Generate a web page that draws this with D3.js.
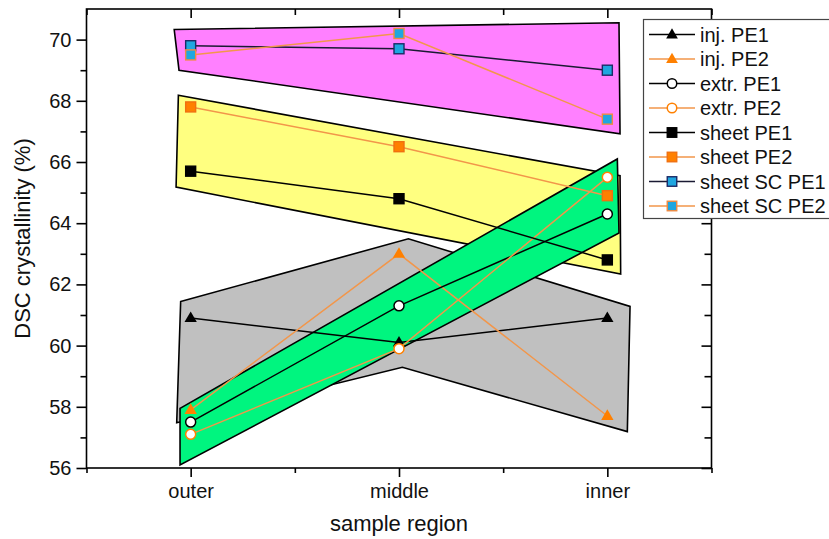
<!DOCTYPE html>
<html><head><meta charset="utf-8">
<script src="https://cdn.jsdelivr.net/npm/d3@7"></script>
<style>html,body{margin:0;padding:0;background:#fff;}svg{display:block;font-family:"Liberation Sans",Arial,sans-serif;}</style>
</head><body><svg id="c" width="829" height="539"></svg>
<script>
// ---- data ----
const categories = ["outer", "middle", "inner"];
const yTicks = [56, 58, 60, 62, 64, 66, 68, 70];
const injPE1 = [60.9, 60.1, 60.9];
const injPE2 = [57.9, 63.0, 57.7];
const extrPE1 = [57.5, 61.3, 64.3];
const extrPE2 = [57.1, 59.9, 65.5];
const sheetPE1 = [65.7, 64.8, 62.8];
const sheetPE2 = [67.8, 66.5, 64.9];
const sheetSCPE1 = [69.8, 69.7, 69.0];
const sheetSCPE2 = [69.5, 70.2, 67.4];
// shaded regions, [category position (outer=1), value]
const grayRegion = [[0.952,61.44],[2.045,63.49],[3.109,61.28],[3.096,57.19],[2.016,59.29],[0.933,57.48]];
const yellowRegion = [[0.941,68.18],[3.061,65.55],[3.064,62.34],[0.930,65.18]];
const magentaRegion = [[0.921,70.33],[3.056,70.55],[3.061,66.92],[0.944,69.0]];
const greenRegion = [[0.949,57.95],[3.048,66.1],[3.056,63.68],[0.949,56.1]];

const ORANGE = "#ff8000", ORANGE_LINE = "#f2964a", BLUE = "#1fa6e0", NAVY = "#1c2a66";
const series = [
  {name:"inj. PE1", v:injPE1, line:"#000", sym:"tri", fill:"#000", stroke:"#000"},
  {name:"inj. PE2", v:injPE2, line:ORANGE_LINE, sym:"tri", fill:ORANGE, stroke:ORANGE},
  {name:"extr. PE1", v:extrPE1, line:"#000", sym:"circ", fill:"#fff", stroke:"#000"},
  {name:"extr. PE2", v:extrPE2, line:ORANGE_LINE, sym:"circ", fill:"#fff", stroke:ORANGE},
  {name:"sheet PE1", v:sheetPE1, line:"#000", sym:"sq", fill:"#000", stroke:"#000"},
  {name:"sheet PE2", v:sheetPE2, line:ORANGE_LINE, sym:"sq", fill:ORANGE, stroke:"#f07010"},
  {name:"sheet SC PE1", v:sheetSCPE1, line:"#1a1a33", sym:"sq", fill:BLUE, stroke:NAVY},
  {name:"sheet SC PE2", v:sheetSCPE2, line:ORANGE_LINE, sym:"sq", fill:BLUE, stroke:"#f08a40"}
];
const regions = [
  {pts:grayRegion, fill:"#c0c0c0"},
  {pts:yellowRegion, fill:"#ffff80"},
  {pts:magentaRegion, fill:"#ff80ff"},
  {pts:greenRegion, fill:"#00f57f"}
];

// ---- layout ----
const L = 86.5, R = 711.5, T = 9, B = 468;
const x = d3.scaleLinear().domain([0.5, 3.5]).range([L, R]);
const y = d3.scaleLinear().domain([56, 71]).range([B, T]);
const svg = d3.select("#c");

// regions
const poly = d3.line().x(d => x(d[0])).y(d => y(d[1]));
svg.append("g").selectAll("path").data(regions).join("path")
  .attr("d", d => poly(d.pts) + "Z")
  .attr("fill", d => d.fill).attr("stroke", "#000").attr("stroke-width", 1.6)
  .attr("stroke-linejoin", "miter");

// symbols
function drawSym(g, s, cx, cy, scale) {
  if (s.sym === "tri") {
    g.append("path").attr("d", d3.symbol(d3.symbolTriangle, 66 * scale * scale)())
      .attr("transform", `translate(${cx},${cy + 0.5})`).attr("fill", s.fill).attr("stroke", "none");
  } else if (s.sym === "circ") {
    g.append("circle").attr("cx", cx).attr("cy", cy).attr("r", 5 * scale)
      .attr("fill", s.fill).attr("stroke", s.stroke).attr("stroke-width", 1.5);
  } else {
    const h = 5 * scale;
    g.append("rect").attr("x", cx - h).attr("y", cy - h).attr("width", 2 * h).attr("height", 2 * h)
      .attr("fill", s.fill).attr("stroke", s.stroke).attr("stroke-width", 1.4);
  }
}

const line = d3.line().x((d, i) => x(i + 1)).y(d => y(d));
series.forEach(s => {
  const g = svg.append("g");
  g.append("path").attr("d", line(s.v)).attr("fill", "none").attr("stroke", s.line).attr("stroke-width", 1.5);
  s.v.forEach((v, i) => drawSym(g, s, x(i + 1), y(v), 1));
});

// ---- axes ----
const xMajor = [1, 2, 3], xMinor = [0.5, 1.5, 2.5, 3.5];
const yMinor = d3.range(57, 71, 2);
const axStroke = 1.6;
function styleAxis(g) {
  g.select(".domain").remove();
  g.selectAll("line").attr("stroke", "#000").attr("stroke-width", axStroke);
}
// bottom
svg.append("g").attr("transform", `translate(0,${B})`)
  .call(d3.axisBottom(x).tickValues(xMajor).tickSize(9).tickPadding(7).tickFormat(d => categories[d - 1]))
  .call(styleAxis).call(g => g.selectAll("text").attr("font-size", 20).attr("fill", "#111"));
svg.append("g").attr("transform", `translate(0,${B})`)
  .call(d3.axisBottom(x).tickValues(xMinor).tickSize(5).tickFormat("")).call(styleAxis);
// top (inward)
svg.append("g").attr("transform", `translate(0,${T})`)
  .call(d3.axisBottom(x).tickValues(xMajor).tickSize(9).tickFormat("")).call(styleAxis);
svg.append("g").attr("transform", `translate(0,${T})`)
  .call(d3.axisBottom(x).tickValues(xMinor).tickSize(6).tickFormat("")).call(styleAxis);
// left
svg.append("g").attr("transform", `translate(${L},0)`)
  .call(d3.axisLeft(y).tickValues(yTicks).tickSize(10).tickPadding(5).tickFormat(d3.format("d")))
  .call(styleAxis).call(g => g.selectAll("text").attr("font-size", 20).attr("fill", "#111"));
svg.append("g").attr("transform", `translate(${L},0)`)
  .call(d3.axisLeft(y).tickValues(yMinor).tickSize(6).tickFormat("")).call(styleAxis);
// right (inward)
svg.append("g").attr("transform", `translate(${R},0)`)
  .call(d3.axisLeft(y).tickValues(yTicks).tickSize(10).tickFormat("")).call(styleAxis);
svg.append("g").attr("transform", `translate(${R},0)`)
  .call(d3.axisLeft(y).tickValues(yMinor).tickSize(7).tickFormat("")).call(styleAxis);
// frame
svg.append("rect").attr("x", L).attr("y", T).attr("width", R - L).attr("height", B - T)
  .attr("fill", "none").attr("stroke", "#000").attr("stroke-width", axStroke);

// axis titles
svg.append("text").attr("x", (L + R) / 2).attr("y", 531).attr("text-anchor", "middle")
  .attr("font-size", 22).attr("fill", "#111").text("sample region");
svg.append("text").attr("transform", `translate(30,${(T + B) / 2}) rotate(-90)`).attr("text-anchor", "middle")
  .attr("font-size", 22).attr("fill", "#111").text("DSC crystallinity (%)");

// ---- legend ----
const lg = svg.append("g");
lg.append("rect").attr("x", 643.5).attr("y", 19.5).attr("width", 200).attr("height", 199)
  .attr("fill", "#fff").attr("stroke", "#444").attr("stroke-width", 1.2);
series.forEach((s, i) => {
  const cy = 34.5 + i * 24.5;
  const g = lg.append("g");
  g.append("line").attr("x1", 649).attr("x2", 695).attr("y1", cy).attr("y2", cy)
    .attr("stroke", s.line).attr("stroke-width", 1.5);
  drawSym(g, s, 672, cy, 0.95);
  g.append("text").attr("x", 700).attr("y", cy).attr("dy", "0.36em").attr("font-size", 20)
    .attr("fill", "#111").text(s.name);
});
</script></body></html>
